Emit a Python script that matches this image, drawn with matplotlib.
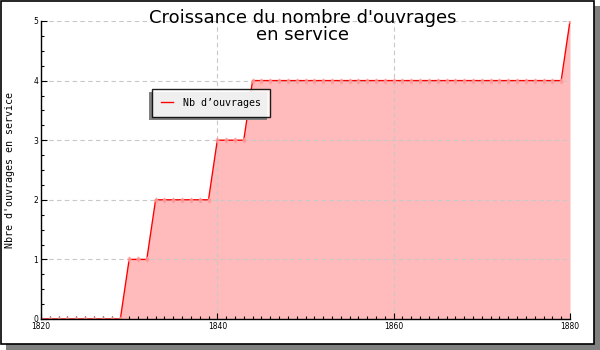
import matplotlib

matplotlib.use("Agg")
import matplotlib.patheffects as pe
import matplotlib.pyplot as plt
from matplotlib.patches import Rectangle
from matplotlib.ticker import MultipleLocator

years = list(range(1820, 1881))
# nombre d'ouvrages en service
counts = (
    [0] * 10          # 1820-1829
    + [1] * 3         # 1830-1832
    + [2] * 7         # 1833-1839
    + [3] * 4         # 1840-1843
    + [4] * 36        # 1844-1879
    + [5]             # 1880
)

TITLE = "Croissance du nombre d'ouvrages\nen service"
YLABEL = "Nbre d'ouvrages en service"
LEGEND = "Nb d’ouvrages"

fig = plt.figure(figsize=(6, 3.5), dpi=100)

# cadre de la figure avec ombre
fig.patches.append(Rectangle((6 / 600, 0), 594 / 600, 344 / 350, transform=fig.transFigure,
                             facecolor="#808080", edgecolor="none", zorder=-2))
fig.patches.append(Rectangle((0.5 / 600, 6 / 350), 593 / 600, 343 / 350, transform=fig.transFigure,
                             facecolor="white", edgecolor="black", linewidth=1.2, zorder=-1))

ax = fig.add_axes([41 / 600, 31 / 350, 529 / 600, 298 / 350])
ax.set_facecolor("none")

ax.fill_between(years, counts, 0, color="#ffbbbb", linewidth=0, zorder=1)
ax.plot(years, counts, color="red", linewidth=1.0, zorder=3, label=LEGEND)
ax.plot(years, counts, linestyle="none", marker="d", markersize=2.5,
        color="#ff9999", alpha=0.8, zorder=4)

ax.set_xlim(1820, 1880)
ax.set_ylim(0, 5)
ax.xaxis.set_major_locator(MultipleLocator(20))
ax.xaxis.set_minor_locator(MultipleLocator(1))
ax.yaxis.set_major_locator(MultipleLocator(1))
ax.yaxis.set_minor_locator(MultipleLocator(0.25))
ax.tick_params(which="both", direction="in", labelsize=5.5, width=0.8, pad=2)
ax.tick_params(which="major", length=4)
ax.tick_params(which="minor", length=2.5)

ax.grid(True, which="major", linestyle=(0, (4, 3)), color="#c8c8c8", linewidth=0.8, zorder=2)
ax.set_axisbelow(False)
for side in ("top", "right"):
    ax.spines[side].set_visible(False)
for side in ("left", "bottom"):
    ax.spines[side].set_linewidth(1.0)
    ax.spines[side].set_zorder(5)

ax.set_ylabel(YLABEL, family="DejaVu Sans Mono", fontsize=7.2, labelpad=13)
fig.text(0.505, 0.975, TITLE, ha="center", va="top", fontsize=13, linespacing=0.95)

leg = ax.legend(loc="upper left", bbox_to_anchor=(0.21, 0.772), borderaxespad=0,
                fancybox=False, framealpha=0.88,
                edgecolor="black", prop={"family": "DejaVu Sans Mono", "size": 7.2},
                handlelength=1.2, handletextpad=1.0, borderpad=0.9)
frame = leg.get_frame()
frame.set_linewidth(1.0)
frame.set_path_effects([
    pe.SimplePatchShadow(offset=(-2.2, -2.2), shadow_rgbFace="#808080", alpha=1.0),
    pe.Normal(),
])

fig.savefig("out.png", dpi=100)
